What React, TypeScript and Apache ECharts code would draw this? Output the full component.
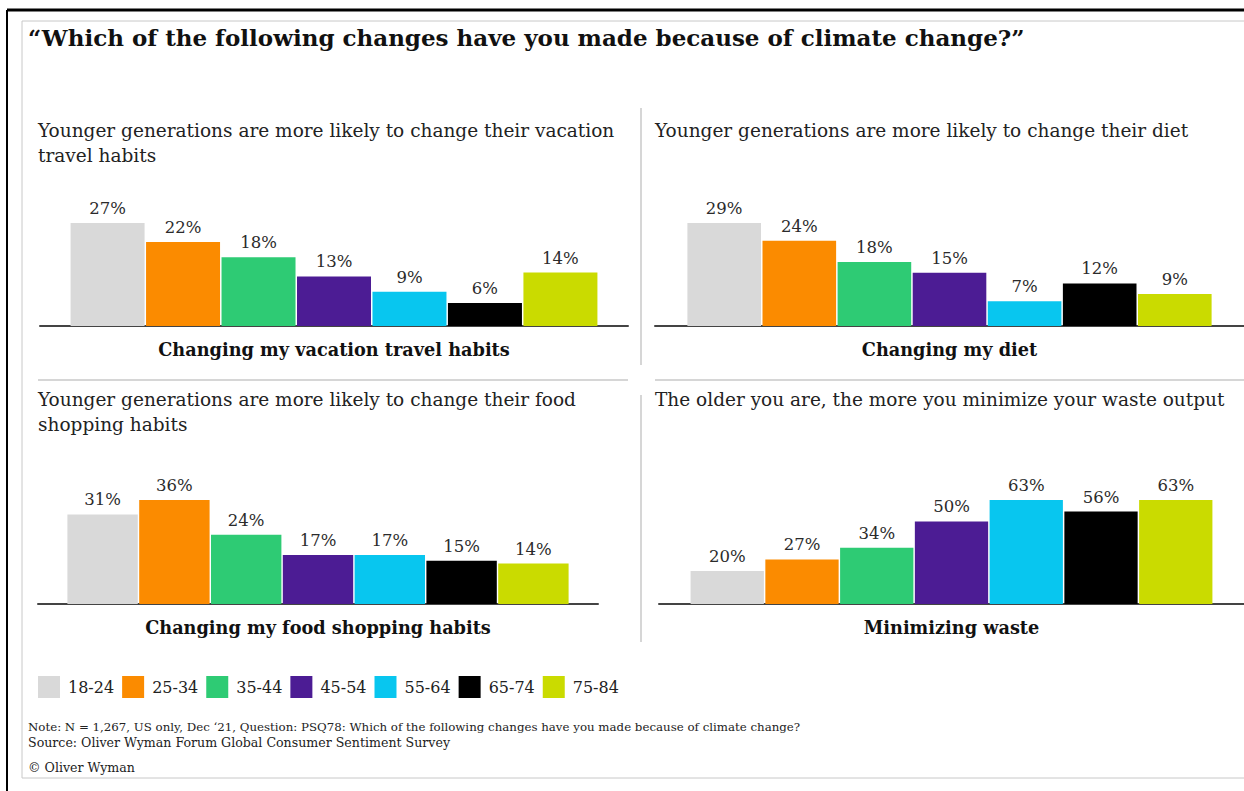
import React, { useEffect, useRef } from "react";
import * as echarts from "echarts";

const ageGroups = ["18-24", "25-34", "35-44", "45-54", "55-64", "65-74", "75-84"];
const ageColors = ["#d9d9d9", "#fb8b00", "#2ecb74", "#4c1c94", "#08c6ef", "#000000", "#cadb00"];

const panelCategories = [
  "Changing my vacation travel habits",
  "Changing my diet",
  "Changing my food shopping habits",
  "Minimizing waste",
];
const panelSubtitles = [
  "Younger generations are more likely to change their vacation\ntravel habits",
  "Younger generations are more likely to change their diet",
  "Younger generations are more likely to change their food\nshopping habits",
  "The older you are, the more you minimize your waste output",
];

const travelValues = [27, 22, 18, 13, 9, 6, 14];
const dietValues = [29, 24, 18, 15, 7, 12, 9];
const foodValues = [31, 36, 24, 17, 17, 15, 14];
const wasteValues = [20, 27, 34, 50, 63, 56, 63];
const panelValues = [travelValues, dietValues, foodValues, wasteValues];

const mainTitle = "\u201cWhich of the following changes have you made because of climate change?\u201d";
const noteText =
  "Note: N = 1,267, US only, Dec \u201821, Question: PSQ78: Which of the following changes have you made because of climate change?";
const sourceText = "Source: Oliver Wyman Forum Global Consumer Sentiment Survey";
const copyrightText = "\u00a9 Oliver Wyman";

const SERIF = "'DejaVu Serif', 'Liberation Serif', serif";

// layout of the four panels (left, width, top, height, category gap)
const gridLayout = [
  { left: 40, width: 588, top: 223, height: 103, gap: "10.4%" },
  { left: 655, width: 590, top: 223, height: 103, gap: "11%" },
  { left: 38, width: 560, top: 500, height: 104, gap: "10.5%" },
  { left: 659, width: 591, top: 500, height: 104, gap: "10.8%" },
];
const subtitlePos = [
  { left: 38, top: 118 },
  { left: 655, top: 118 },
  { left: 38, top: 387 },
  { left: 655, top: 387 },
];

export default function App() {
  const ref = useRef<HTMLDivElement>(null);

  useEffect(() => {
    if (!ref.current) return;
    const chart = echarts.init(ref.current, undefined, { renderer: "svg" });

    const series: any[] = [];
    panelValues.forEach((vals, p) => {
      ageGroups.forEach((age, i) => {
        series.push({
          type: "bar",
          name: age,
          xAxisIndex: p,
          yAxisIndex: p,
          data: [vals[i]],
          barGap: "2%",
          barCategoryGap: gridLayout[p].gap,
          itemStyle: { color: ageColors[i] },
          label: {
            show: true,
            position: "top",
            distance: 6,
            formatter: "{c}%",
            fontFamily: SERIF,
            fontSize: 16.5,
            color: "#2b2b2b",
          },
        });
      });
    });

    const small = { fontFamily: SERIF, fontWeight: "normal", color: "#222", lineHeight: 15 };
    const titles: any[] = [
      {
        text: mainTitle,
        left: 28,
        top: 22,
        padding: 0,
        textStyle: { fontFamily: SERIF, fontWeight: "bold", fontSize: 23, color: "#111", lineHeight: 30 },
      },
      ...panelSubtitles.map((t, p) => ({
        text: t,
        left: subtitlePos[p].left,
        top: subtitlePos[p].top,
        padding: 0,
        textStyle: { fontFamily: SERIF, fontWeight: "normal", fontSize: 18.5, color: "#222", lineHeight: 25 },
      })),
      { text: noteText, left: 28, top: 719.5, padding: 0, textStyle: { ...small, fontSize: 11.8 } },
      { text: sourceText, left: 28, top: 734.5, padding: 0, textStyle: { ...small, fontSize: 12.6 } },
      { text: copyrightText, left: 28, top: 760, padding: 0, textStyle: { ...small, fontSize: 12.6 } },
    ];

    const option: any = {
      animation: false,
      backgroundColor: "#ffffff",
      title: titles,
      legend: {
        data: ageGroups,
        left: 38,
        top: 676,
        padding: 0,
        icon: "rect",
        itemWidth: 22,
        itemHeight: 22,
        itemGap: 8,
        selectedMode: false,
        textStyle: { fontFamily: SERIF, fontSize: 16, color: "#222", padding: [0, 0, 0, 3] },
      },
      grid: gridLayout.map((g) => ({ left: g.left, width: g.width, top: g.top, height: g.height })),
      xAxis: gridLayout.map((g, p) => ({
        type: "category",
        gridIndex: p,
        data: [panelCategories[p]],
        axisLine: { show: true, lineStyle: { color: "#444", width: 2 } },
        axisTick: { show: false },
        axisLabel: {
          fontFamily: SERIF,
          fontWeight: "bold",
          fontSize: 17.7,
          color: "#111",
          margin: 14,
        },
      })),
      yAxis: gridLayout.map((g, p) => ({
        type: "value",
        gridIndex: p,
        min: 0,
        max: "dataMax",
        show: false,
        splitLine: { show: false },
      })),
      series,
      graphic: [
        { type: "line", shape: { x1: 7, y1: 10, x2: 1250, y2: 10 }, style: { stroke: "#000", lineWidth: 3 } },
        { type: "line", shape: { x1: 7, y1: 10, x2: 7, y2: 800 }, style: { stroke: "#000", lineWidth: 2 } },
        { type: "rect", shape: { x: 22, y: 21, width: 1240, height: 757 }, style: { fill: "none", stroke: "#c8c8c8", lineWidth: 1 } },
        { type: "line", shape: { x1: 641, y1: 108, x2: 641, y2: 365 }, style: { stroke: "#c8c8c8", lineWidth: 1.5 } },
        { type: "line", shape: { x1: 641, y1: 395, x2: 641, y2: 642 }, style: { stroke: "#c8c8c8", lineWidth: 1.5 } },
        { type: "line", shape: { x1: 38, y1: 380, x2: 628, y2: 380 }, style: { stroke: "#c8c8c8", lineWidth: 1.5 } },
        { type: "line", shape: { x1: 655, y1: 380, x2: 1250, y2: 380 }, style: { stroke: "#c8c8c8", lineWidth: 1.5 } },
      ],
    };

    chart.setOption(option);
    return () => chart.dispose();
  }, []);

  return (
    <div
      ref={ref}
      style={{ position: "fixed", left: 0, top: 0, width: 1244, height: 791, background: "#fff" }}
    />
  );
}
